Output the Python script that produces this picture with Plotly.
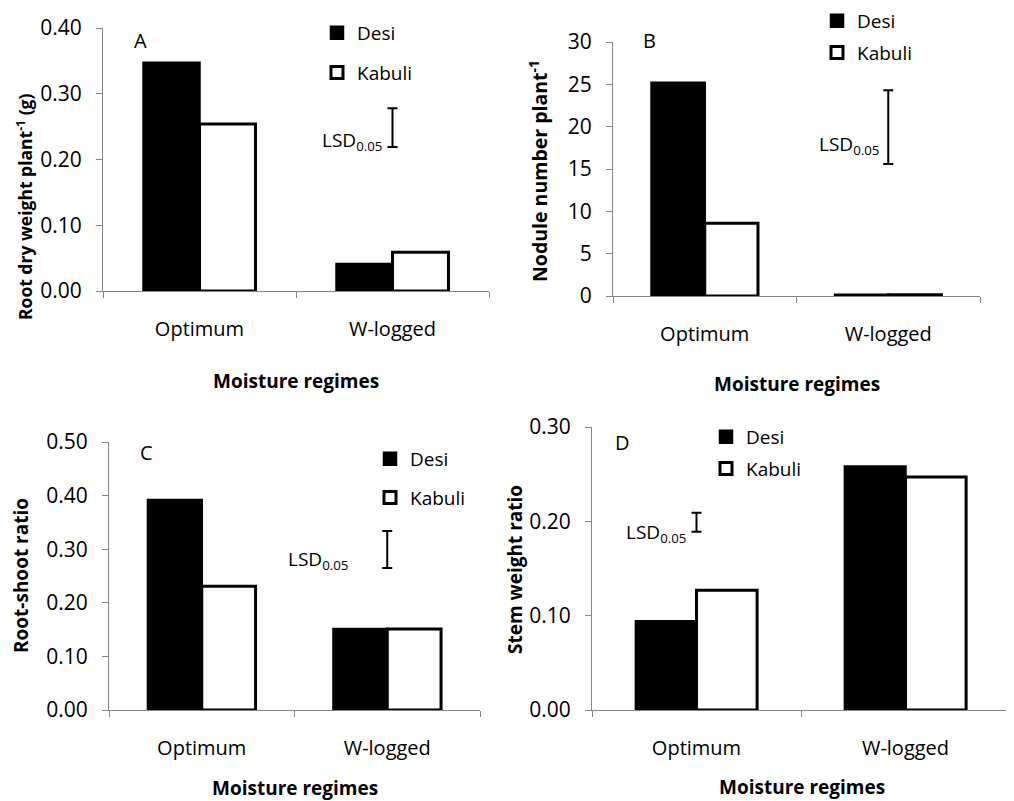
import plotly.graph_objects as go

# ---------------- data ----------------
categories = ["Optimum", "W-logged"]
panel_letters = ["A", "B", "C", "D"]

desi_root_dw = [0.347, 0.041]
kabuli_root_dw = [0.254, 0.059]
desi_nodules = [25.2, 0.15]
kabuli_nodules = [8.6, 0.15]
desi_rs_ratio = [0.392, 0.151]
kabuli_rs_ratio = [0.231, 0.151]
desi_stem_ratio = [0.094, 0.258]
kabuli_stem_ratio = [0.127, 0.247]

lsd_values = [0.059, 8.7, 0.069, 0.020]
lsd_centers = [0.2485, 19.95, 0.2995, 0.199]
lsd_category = [1, 1, 1, 0]

y_titles = ["Root dry weight plant<sup>-1</sup> (g)", "Nodule number plant<sup>-1</sup>",
            "Root-shoot ratio", "Stem weight ratio"]
x_title = "Moisture regimes"
y_ranges = [[0, 0.40], [0, 30], [0, 0.50], [0, 0.30]]
y_dticks = [0.10, 5, 0.10, 0.10]
y_formats = [".2f", "d", ".2f", ".2f"]

desi_series = [desi_root_dw, desi_nodules, desi_rs_ratio, desi_stem_ratio]
kabuli_series = [kabuli_root_dw, kabuli_nodules, kabuli_rs_ratio, kabuli_stem_ratio]

# ---------------- layout geometry (pixels in the 1014x801 page) ----------------
OFF = 8                      # page body margin
W, H = 1014 - OFF, 801 - OFF


def px(p):
    return min(max((p - OFF) / W, 0), 1)


def py(p):
    return min(max(1 - (p - OFF) / H, 0), 1)


boxes = [(103, 489, 28, 291), (613, 980, 42, 296), (109, 480, 442, 710), (592, 1010, 427, 710)]
letter_pos = [(140, 41), (649, 40), (146, 452), (622, 442)]
xtitle_pos = [(296, 381), (797, 384), (295, 788), (802, 787)]
ytitle_pos = [(25, 207), (538, 171), (21, 576), (515, 570)]
ytitle_size = [17.5, 19.5, 19, 19]
legend_pos = [(336, 33, 39), (836, 21, 31), (389, 459, 38), (725, 437, 31)]
lsd_label = [(0.228, -9), (17.8, -7), (0.280, -37), (0.188, -9)]

FONT = "Open Sans"
AX = "#868686"
FS = 19
XTFS = 20
YTFS = 21

fig = go.Figure()
layout = dict(
    width=W, height=H, margin=dict(l=0, r=0, t=0, b=0, autoexpand=False),
    paper_bgcolor="white", plot_bgcolor="white",
    font=dict(family=FONT, size=FS, color="black"),
    barmode="group", bargap=0.42, bargroupgap=0,
    annotations=[],
)

x_idx = list(range(len(categories)))

for i in range(4):
    s = "" if i == 0 else str(i + 1)
    leg = "legend" if i == 0 else "legend" + str(i + 1)
    fig.add_trace(go.Bar(
        x=x_idx, y=desi_series[i], name="Desi", xaxis="x" + s, yaxis="y" + s,
        marker=dict(color="black", line=dict(color="black", width=2.5)),
        legend=leg, legendgroup="d" + s, hoverinfo="skip"))
    fig.add_trace(go.Bar(
        x=x_idx, y=kabuli_series[i], name="Kabuli", xaxis="x" + s, yaxis="y" + s,
        marker=dict(color="white", line=dict(color="black", width=3)),
        legend=leg, legendgroup="k" + s, hoverinfo="skip"))
    fig.add_trace(go.Scatter(
        x=[lsd_category[i]], y=[lsd_centers[i]], mode="markers",
        marker=dict(size=1, color="rgba(0,0,0,0)"),
        error_y=dict(type="data", array=[lsd_values[i] / 2], color="black",
                     thickness=2, width=5),
        xaxis="x" + s, yaxis="y" + s, showlegend=False, hoverinfo="skip"))

    x0, x1, y0, y1 = boxes[i]
    layout["xaxis" + s] = dict(
        domain=[px(x0), px(x1)], range=[-0.5, 1.5], anchor="y" + s,
        tickvals=x_idx, ticktext=categories, ticks="",
        minor=dict(tickvals=[-0.5, 0.5, 1.5], ticks="outside", ticklen=6,
                   tickcolor=AX, tickwidth=1, showgrid=False),
        showline=True, linecolor=AX, linewidth=1, showgrid=False, zeroline=False,
        ticklabelstandoff=20, tickfont=dict(size=XTFS), fixedrange=True)
    layout["yaxis" + s] = dict(
        domain=[py(y1), py(y0)], range=y_ranges[i], anchor="x" + s,
        dtick=y_dticks[i], tick0=0, tickformat=y_formats[i], ticks="outside",
        ticklen=6, tickcolor=AX, showline=True, linecolor=AX, linewidth=1,
        showgrid=False, zeroline=False, ticklabelstandoff=10,
        tickfont=dict(size=YTFS), fixedrange=True)

    lx, ly, gap = legend_pos[i]
    layout[leg] = dict(
        x=(lx - 19 - OFF) / W, y=1 - (ly - 19 - OFF) / H, xanchor="left", yanchor="top",
        bgcolor="rgba(0,0,0,0)", borderwidth=0, font=dict(size=FS),
        tracegroupgap=max(gap - 27, 0), traceorder="grouped", itemclick=False)

    # panel letter
    lpx, lpy = letter_pos[i]
    layout["annotations"].append(dict(
        text=panel_letters[i], x=px(lpx), y=py(lpy), xref="paper", yref="paper",
        showarrow=False, font=dict(size=XTFS), xanchor="center", yanchor="middle"))
    # LSD label
    ly_val, xs = lsd_label[i]
    layout["annotations"].append(dict(
        text="LSD<sub>0.05</sub>", x=lsd_category[i], y=ly_val,
        xref="x" + s, yref="y" + s, xshift=xs, showarrow=False,
        font=dict(size=FS), xanchor="right", yanchor="middle"))
    # axis titles
    tx, ty = xtitle_pos[i]
    layout["annotations"].append(dict(
        text=x_title, x=px(tx), y=py(ty), xref="paper", yref="paper",
        showarrow=False, font=dict(size=FS, weight="bold"),
        xanchor="center", yanchor="middle"))
    vx, vy = ytitle_pos[i]
    layout["annotations"].append(dict(
        text=y_titles[i], x=px(vx), y=py(vy), xref="paper", yref="paper",
        showarrow=False, textangle=-90, font=dict(size=ytitle_size[i], weight="bold"),
        xanchor="center", yanchor="middle"))

fig.update_layout(**layout)
fig.write_html("out.html")
